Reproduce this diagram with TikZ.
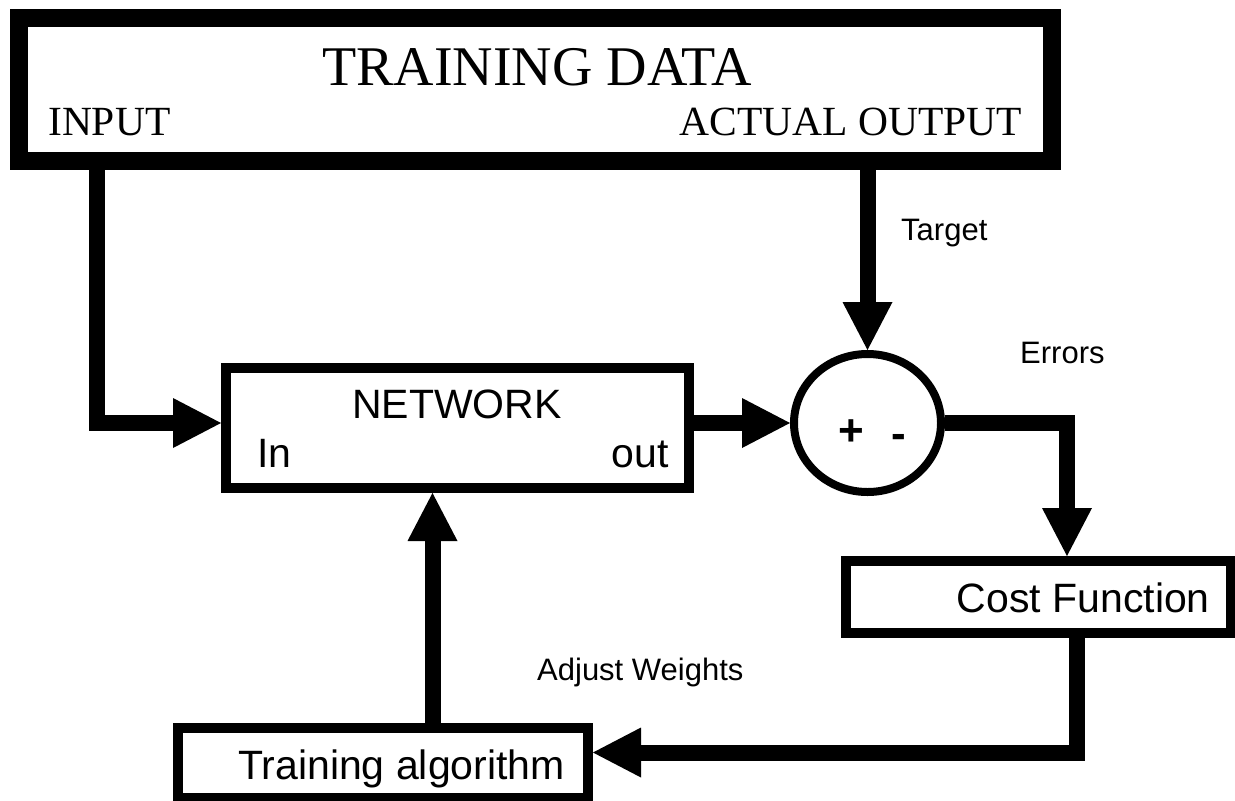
\documentclass[tikz,border=0pt]{standalone}
\usepackage{fontspec}
\setmainfont{Liberation Serif}
\setsansfont{Liberation Sans}
\usetikzlibrary{arrows.meta,shapes.geometric,calc}
\begin{document}
\begin{tikzpicture}[x=1pt,y=-1pt,
  box/.style={draw=black, line width=10pt, fill=white, inner sep=0pt},
  conn/.style={line width=16pt, -{Triangle[length=48pt,width=50pt,line width=0pt]}},
  lbl/.style={inner sep=0pt, font=\sffamily\fontsize{31}{36}\selectfont},
  big/.style={inner sep=0pt, font=\sffamily\fontsize{41}{48}\selectfont},
  sign/.style={inner sep=0pt, font=\sffamily\bfseries\fontsize{44}{50}\selectfont},
  serif/.style={inner sep=0pt, font=\rmfamily\fontsize{41.5}{48}\selectfont},
  title/.style={inner sep=0pt, font=\rmfamily\fontsize{56}{62}\selectfont}]
\fill[white] (0,0) rectangle (1235,801);
\useasboundingbox (0,0) rectangle (1235,801);
% boxes
\node[draw=black, line width=18pt, fill=white, inner sep=0pt, minimum width=1033pt, minimum height=143pt] (td) at (535.5,89) {};
\node[box, minimum width=463pt, minimum height=120pt] (net) at (457.5,428) {};
\node[draw=black, ellipse, line width=8pt, fill=white, inner sep=0pt, minimum width=147pt, minimum height=138pt] (circ) at (867.5,423) {};
\node[box, minimum width=385pt, minimum height=72pt] (cost) at (1038.5,597) {};
\node[box, minimum width=410pt, minimum height=70pt] (ta) at (383,763) {};
% texts
\node[title, anchor=base west] (tdt) at (322,85) {TRAINING DATA};
\node[serif, anchor=base west] (inp) at (48,135) {INPUT};
\node[serif, anchor=base east] (aout) at (1022,135) {ACTUAL OUTPUT};
\node[big, anchor=base west] (nett) at (352,418) {NETWORK};
\node[big, anchor=base west] (nin) at (257,467) {In};
\node[big, anchor=base east] (nout) at (669,467) {out};
\node[sign, anchor=base] (plus) at (851,445) {+};
\node[sign, anchor=base] (minus) at (898.5,448) {-};
\node[big, anchor=base east] (costt) at (1210,612) {Cost Function};
\node[big, anchor=base east] (tat) at (565,779) {Training algorithm};
\node[lbl, anchor=base west] (tgt) at (901,240) {Target};
\node[lbl, anchor=base west] (err) at (1020,363) {Errors};
\node[lbl, anchor=base west] (adj) at (537,680) {Adjust Weights};
% connectors
\coordinate (inx) at (97,0);
\coordinate (errx) at (1067,0);
\coordinate (costx) at (1077,0);
\coordinate (tay) at (0,752.5);
\coordinate (upx) at (432.5,0);
\draw[conn] (td.south -| inx) |- (net.west |- circ.west);
\draw[conn] (net.east |- circ.west) -- (circ.west);
\draw[conn] (td.south -| circ.north) -- (circ.north);
\draw[conn] (circ.east) -| (cost.north -| errx);
\draw[conn] (cost.south -| costx) |- (ta.east |- tay);
\draw[conn] (ta.north -| upx) -- (net.south -| upx);
\end{tikzpicture}
\end{document}
